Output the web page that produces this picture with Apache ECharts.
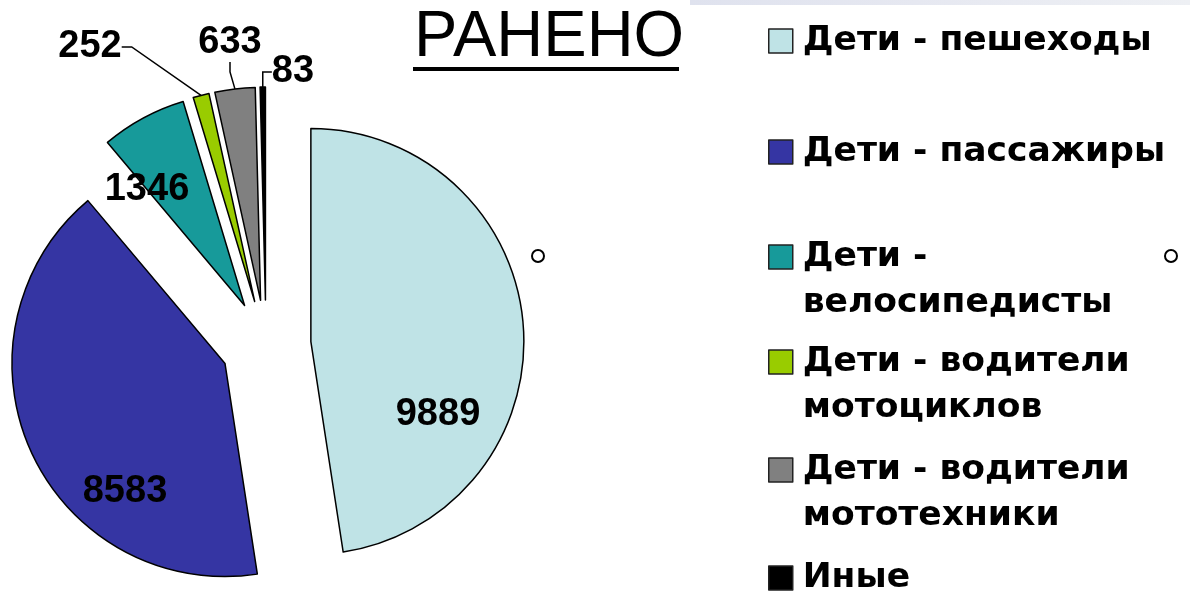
<!DOCTYPE html>
<html>
<head>
<meta charset="utf-8">
<script src="https://cdn.jsdelivr.net/npm/echarts@6/dist/echarts.min.js"></script>
<style>
  html, body { margin: 0; padding: 0; background: #fff; }
  #main { width: 1190px; height: 591px; }
</style>
</head>
<body>
<div id="main"></div>
<script>
// данные: ранено
var categories = ['Дети - пешеходы', 'Дети - пассажиры', 'Дети -\nвелосипедисты',
  'Дети - водители\nмотоциклов', 'Дети - водители\nмототехники', 'Иные']
var values = [9889, 8583, 1346, 252, 633, 83]
var colors = ['#bfe3e6', '#3535a3', '#179a9a', '#99cc00', '#808080', '#000000']

// где стоят подписи (центр текста) и строки легенды
var labelPos = [[438, 415], [125, 492], [147, 190], [90, 47], [230, 43], [293, 72]]
var legendRowY = [41, 152, 257, 362, 470, 578]
var lineH = 46
var pieCenter = [266, 345]
var pieR = 213
var explode = 45

var myChart = echarts.init(document.getElementById('main'))

// видимые секторы (все выдвинуты)
var pieData = []
// невидимая копия только для подписей
var labelData = []
for (var i = 0; i < values.length; i++) {
  pieData.push({
    name: categories[i],
    value: values[i],
    selected: true,
    itemStyle: { color: colors[i] }
  })
  labelData.push({
    name: categories[i],
    value: values[i],
    label: { position: (i < 2) ? 'inside' : 'outside' },
    labelLine: { show: i >= 3 }
  })
}

var legends = []
for (var k = 0; k < categories.length; k++) {
  var twoLines = categories[k].indexOf('\n') > -1
  legends.push({
    orient: 'vertical',
    left: 768,
    top: twoLines ? legendRowY[k] - lineH * 1.5 : legendRowY[k] - lineH / 2,
    padding: 0,
    selectedMode: false,
    icon: 'rect',
    itemWidth: 24,
    itemHeight: 24,
    itemStyle: { borderColor: '#222', borderWidth: 1.5 },
    data: [categories[k]],
    // пустая строка сверху, чтобы квадрат стоял против первой строки
    formatter: function (name) {
      return name.indexOf('\n') > -1 ? '\n' + name : name
    },
    textStyle: {
      fontFamily: 'DejaVu Sans',
      fontWeight: 'bold',
      fontSize: 34.5,
      color: '#000',
      lineHeight: lineH,
      padding: [0, 0, 0, 5]
    }
  })
}

var option = {
  animation: false,
  backgroundColor: '#fff',
  title: {
    text: 'РАНЕНО',
    left: 414,
    top: 6,
    padding: 0,
    textStyle: { fontFamily: 'Liberation Sans', fontWeight: 'normal', fontSize: 65, color: '#000' }
  },
  legend: legends,
  graphic: [
    { type: 'rect', left: 413, top: 67, shape: { width: 266, height: 4 }, style: { fill: '#000' } },
    { type: 'rect', left: 690, top: 0, shape: { width: 500, height: 5 },
      style: { fill: new echarts.graphic.LinearGradient(0, 0, 1, 0, [
        { offset: 0, color: '#dfe2ee' }, { offset: 0.45, color: '#e6e8f1' }, { offset: 1, color: '#eef0f4' }]) } },
    { type: 'circle', left: 531, top: 249, shape: { r: 6 }, style: { fill: '#fff', stroke: '#000', lineWidth: 2 } },
    { type: 'circle', left: 1164, top: 249, shape: { r: 6 }, style: { fill: '#fff', stroke: '#000', lineWidth: 2 } }
  ],
  series: [
    {
      type: 'pie',
      center: pieCenter,
      radius: pieR,
      startAngle: 90,
      clockwise: true,
      selectedMode: 'multiple',
      selectedOffset: explode,
      itemStyle: { borderColor: '#000', borderWidth: 1.5 },
      label: { show: false },
      labelLine: { show: false },
      emphasis: { disabled: true },
      data: pieData
    },
    {
      type: 'pie',
      silent: true,
      center: pieCenter,
      radius: pieR + explode,
      startAngle: 90,
      clockwise: true,
      avoidLabelOverlap: false,
      itemStyle: { color: 'rgba(0,0,0,0)', borderWidth: 0 },
      label: {
        show: true,
        formatter: '{c}',
        fontFamily: 'Liberation Sans',
        fontWeight: 'bold',
        fontSize: 38,
        color: '#000'
      },
      labelLine: { show: true, lineStyle: { color: '#000', width: 1.5 }, length: 10, length2: 10 },
      labelLayout: function (params) {
        var p = labelPos[params.dataIndex]
        return { x: p[0], y: p[1], align: 'center', verticalAlign: 'middle' }
      },
      emphasis: { disabled: true },
      data: labelData
    }
  ]
}

myChart.setOption(option)
</script>
</body>
</html>
